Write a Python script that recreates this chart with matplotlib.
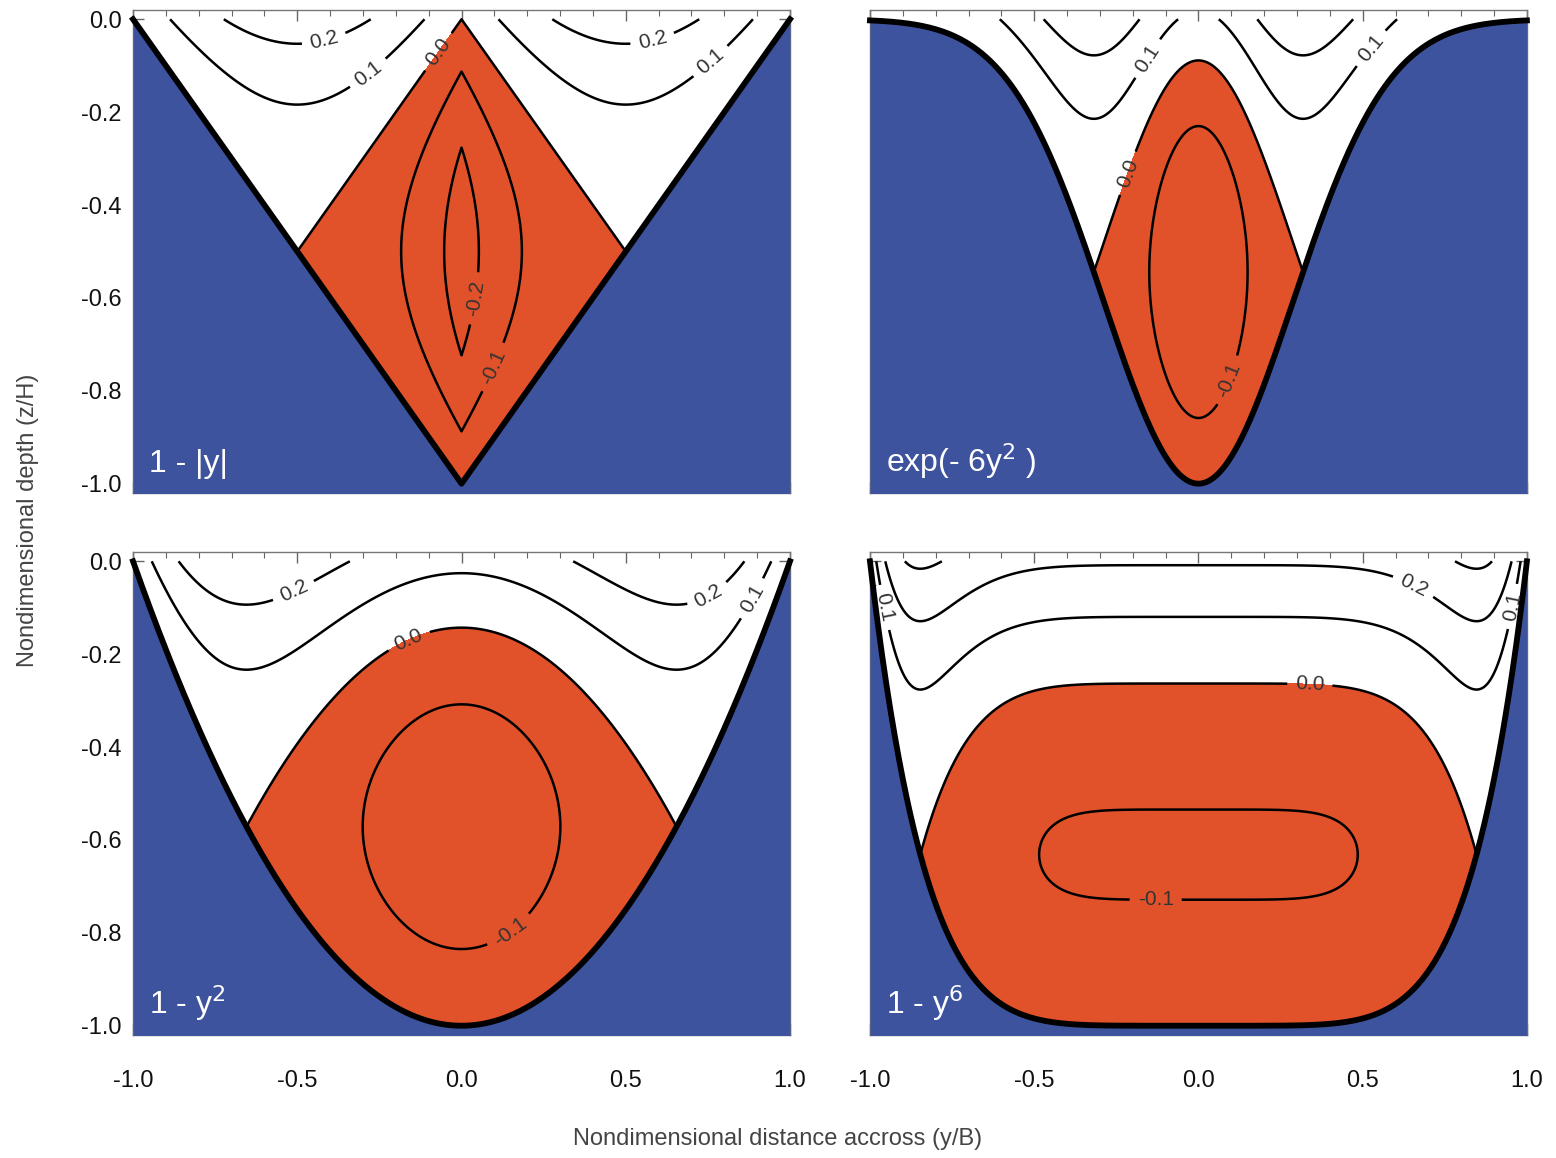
import numpy as np
import matplotlib.pyplot as plt
from matplotlib.ticker import MultipleLocator, FormatStrFormatter

plt.rcParams['font.family'] = ['Liberation Sans', 'DejaVu Sans']
plt.rcParams['axes.unicode_minus'] = False
plt.rcParams['contour.negative_linestyle'] = 'solid'

# bottom profiles h(y) for the four panels (row by row)
PANEL_LABELS = ["1 - |y|", "exp(- 6y$^2$ )", "1 - y$^2$", "1 - y$^6$"]
PROFILES = [
    lambda y: 1 - np.abs(y),
    lambda y: np.exp(-6 * y**2),
    lambda y: 1 - y**2,
    lambda y: 1 - y**6,
]
LEVELS = [-0.2, -0.1, 0.0, 0.1, 0.2, 0.3]
XTICKS = [-1.0, -0.5, 0.0, 0.5, 1.0]
YTICKS = [0.0, -0.2, -0.4, -0.6, -0.8, -1.0]

# where the contour labels sit (styling only)
LABEL_SPOTS = [
    [(-0.42, -0.04), (-0.28, -0.12), (-0.09, -0.06), (0.58, -0.04), (0.77, -0.1),
     (0.03, -0.6), (0.1, -0.75)],
    [(-0.175, -0.075), (0.53, -0.065), (-0.22, -0.33), (0.1, -0.78)],
    [(-0.52, -0.05), (0.74, -0.06), (0.885, -0.08), (-0.16, -0.17), (0.15, -0.8)],
    [(0.675, -0.024), (-0.96, -0.1), (0.975, -0.1), (0.34, -0.25), (-0.13, -0.73)],
]

BLUE = '#3E539E'
ORANGE = '#E1522B'
GRAY = '#444444'


def velocity(yy, zz, h_func):
    # wind stress at surface, no slip at bottom, zero net transport
    y1 = np.linspace(-1, 1, 4001)
    h1 = h_func(y1)
    c = 4.0 / 3.0 * np.trapezoid(h1**3, y1) / np.trapezoid(h1**2, y1)
    hh = h_func(yy)
    return (zz + hh) * (1 + (zz - hh) / c), hh


fig = plt.figure(figsize=(15.56, 11.58), dpi=100)
lefts = [0.0855, 0.5591]
bottoms = [0.5743, 0.1062]
w, hgt = 0.4222, 0.4171

y = np.linspace(-1, 1, 801)
z = np.linspace(-1.06, 0, 701)
Y, Z = np.meshgrid(y, z)

for i, (label, prof) in enumerate(zip(PANEL_LABELS, PROFILES)):
    r, col = divmod(i, 2)
    ax = fig.add_axes([lefts[col], bottoms[r], w, hgt])
    U, H = velocity(Y, Z, prof)
    ax.contourf(Y, Z, U, levels=[-10, 0], colors=[ORANGE], zorder=1)
    Um = np.ma.masked_where(Z < -H, U)
    cs = ax.contour(Y, Z, Um, levels=LEVELS, colors='k', linewidths=1.8, zorder=2)
    texts = ax.clabel(cs, fmt='%.1f', fontsize=15, inline=True, inline_spacing=8,
                      manual=LABEL_SPOTS[i])
    for t in texts:
        t.set_zorder(6)
        t.set_color('#333333')
    hb = prof(y)
    ax.fill_between(y, -hb, -1.2, color=BLUE, lw=0, zorder=3)
    ax.plot(y, -hb, color='k', lw=4.2, zorder=4, clip_on=False)
    ax.text(-0.95, -0.975, label, color='white', fontsize=23, va='baseline', zorder=7)

    ax.set_xlim(-1, 1)
    ax.set_ylim(-1.02, 0.02)
    ax.set_xticks(XTICKS)
    ax.set_yticks(YTICKS)
    ax.xaxis.set_minor_locator(MultipleLocator(0.1))
    ax.yaxis.set_minor_locator(MultipleLocator(0.05))
    ax.xaxis.set_major_formatter(FormatStrFormatter('%.1f'))
    ax.yaxis.set_major_formatter(FormatStrFormatter('%.1f'))
    ax.tick_params(which='both', direction='in', top=True, right=True,
                   colors='#666666', labelcolor='#111111', labelsize=17)
    ax.tick_params(which='major', length=8, width=1)
    ax.tick_params(which='minor', length=4, width=0.8)
    ax.tick_params(axis='x', pad=25)
    ax.tick_params(axis='y', pad=8)
    if r == 0:
        ax.tick_params(axis='x', labelbottom=False)
    if col == 1:
        ax.tick_params(axis='y', labelleft=False)
    for s in ax.spines.values():
        s.set_color('#777777')
        s.set_linewidth(1)

fig.text(0.5, 0.011, 'Nondimensional distance accross (y/B)', ha='center',
         fontsize=17, color=GRAY)
fig.text(0.018, 0.551, 'Nondimensional depth (z/H)', rotation=90, va='center',
         ha='center', fontsize=17, color=GRAY)

fig.savefig('out.png', dpi=100)
